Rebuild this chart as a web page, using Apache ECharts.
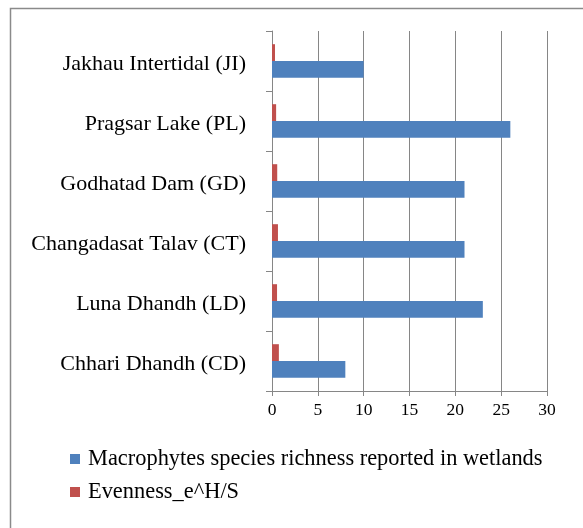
<!DOCTYPE html>
<html>
<head>
<meta charset="utf-8">
<script src="https://cdn.jsdelivr.net/npm/echarts@6/dist/echarts.min.js"></script>
<style>
  html, body { margin: 0; padding: 0; background: #fff; }
  #chart { width: 583px; height: 528px; }
</style>
</head>
<body>
<div id="chart"></div>
<script>
// wetlands, top to bottom
var sites = ['Jakhau Intertidal (JI)', 'Pragsar Lake (PL)', 'Godhatad Dam (GD)',
  'Changadasat Talav (CT)', 'Luna Dhandh (LD)', 'Chhari Dhandh (CD)']
var richness = [10, 26, 21, 21, 23, 8]
var evenness = [0.33, 0.45, 0.57, 0.65, 0.55, 0.75]
var xTicks = [0, 5, 10, 15, 20, 25, 30]

var richnessName = 'Macrophytes species richness reported in wetlands'
var evennessName = 'Evenness_e^H/S'
var serif = '"Liberation Serif", "DejaVu Serif", serif'

var chart = echarts.init(document.getElementById('chart'))
chart.setOption({
  animation: false,
  grid: { left: 272, right: 36, top: 31, bottom: 137 },
  graphic: [{
    type: 'rect',
    shape: { x: 10.5, y: 8.5, width: 700, height: 700 },
    style: { fill: 'none', stroke: '#8a8a8a', lineWidth: 1.5 },
    silent: true
  }],
  legend: {
    data: [richnessName, evennessName],
    orient: 'vertical',
    left: 65,
    top: 443,
    icon: 'rect',
    itemWidth: 10,
    itemHeight: 10,
    itemGap: 11,
    textStyle: { fontFamily: serif, fontSize: 22.4, color: '#000', padding: [0, 0, 0, 3] }
  },
  xAxis: {
    type: 'value',
    min: xTicks[0],
    max: xTicks[xTicks.length - 1],
    interval: 5,
    axisLine: { show: true, lineStyle: { color: '#868686' } },
    axisTick: { show: true, length: 5, lineStyle: { color: '#868686' } },
    splitLine: { show: true, lineStyle: { color: '#868686' } },
    axisLabel: { fontFamily: serif, fontSize: 17.5, color: '#000', margin: 10 }
  },
  yAxis: {
    type: 'category',
    inverse: true,
    data: sites,
    axisLine: { show: true, lineStyle: { color: '#868686' } },
    axisTick: { show: true, length: 6, lineStyle: { color: '#868686' } },
    splitLine: { show: false },
    axisLabel: {
      margin: 26,
      formatter: function (v) { return '{s|' + v + '}' },
      rich: {
        s: { fontFamily: serif, fontSize: 22, color: '#000', padding: [6, 0, 0, 0] }
      }
    }
  },
  series: [
    {
      name: evennessName,
      type: 'bar',
      data: evenness,
      barGap: '0%',
      barCategoryGap: '44%',
      itemStyle: { color: '#C0504D' }
    },
    {
      name: richnessName,
      type: 'bar',
      data: richness,
      barGap: '0%',
      barCategoryGap: '44%',
      itemStyle: { color: '#4F81BD' }
    }
  ]
})
</script>
</body>
</html>
